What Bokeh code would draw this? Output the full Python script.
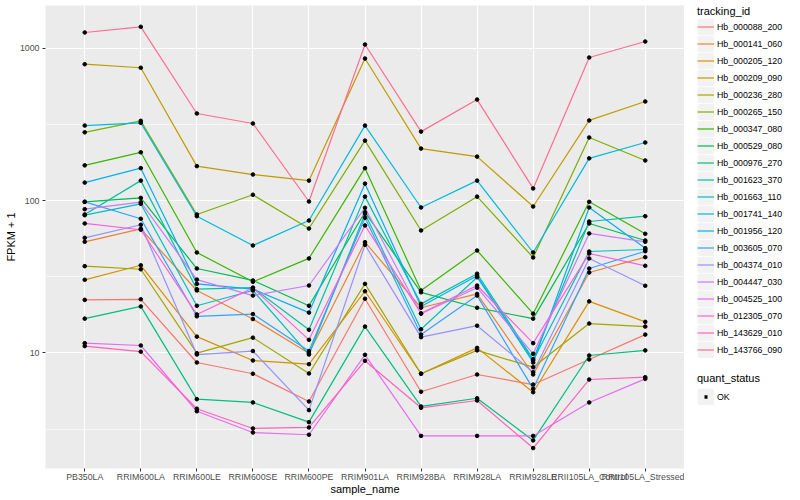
from bokeh.plotting import figure
from bokeh.layouts import row
from bokeh.models import FactorRange, Range1d, FixedTicker, Legend, LegendItem, PrintfTickFormatter
from bokeh.embed import file_html
from bokeh.resources import INLINE

samples = ["PB350LA", "RRIM600LA", "RRIM600LE", "RRIM600SE", "RRIM600PE", "RRIM901LA",
           "RRIM928BA", "RRIM928LA", "RRIM928LE", "RRII105LA_Control", "RRII105LA_Stressed"]

tracking_ids = ["Hb_000088_200", "Hb_000141_060", "Hb_000205_120", "Hb_000209_090", "Hb_000236_280",
                "Hb_000265_150", "Hb_000347_080", "Hb_000529_080", "Hb_000976_270", "Hb_001623_370",
                "Hb_001663_110", "Hb_001741_140", "Hb_001956_120", "Hb_003605_070", "Hb_004374_010",
                "Hb_004447_030", "Hb_004525_100", "Hb_012305_070", "Hb_143629_010", "Hb_143766_090"]

colors = ["#F8766D", "#EA8331", "#D89000", "#C09B00", "#A3A500", "#7CAE00", "#39B600", "#00BB4E",
          "#00BF7D", "#00C1A3", "#00BFC4", "#00BAE0", "#00B0F6", "#35A2FF", "#9590FF", "#C77CFF",
          "#E76BF3", "#FA62DB", "#FF62BC", "#FF6C91"]

quant_status = ["OK"]

# FPKM + 1 per sample (order of `samples`)
Hb_000088_200 = [22.3, 22.5, 8.66, 7.31, 4.81, 22.7, 5.57, 7.23, 6.21, 9.07, 13.2]
Hb_000141_060 = [53.6, 65.2, 25.7, 16.7, 9.97, 53.3, 19.8, 24.4, 7.23, 33.7, 42.5]
Hb_000205_120 = [30.2, 37.6, 12.8, 8.93, 8.45, 25.4, 7.31, 10.8, 5.53, 21.8, 16.0]
Hb_000209_090 = [783, 742, 168, 148, 135, 853, 219, 194, 91.3, 335, 446]
Hb_000236_280 = [37.1, 35.4, 9.97, 12.6, 7.34, 28.4, 7.31, 10.4, 8.07, 15.6, 14.9]
Hb_000265_150 = [280, 333, 81.0, 109, 65.5, 247, 63.6, 106, 42.3, 259, 183]
Hb_000347_080 = [170, 207, 45.6, 29.3, 41.7, 163, 25.7, 47.0, 18.1, 98.0, 60.5]
Hb_000529_080 = [98.0, 104, 35.8, 29.9, 20.4, 83.8, 25.0, 19.8, 16.8, 70.7, 54.7]
Hb_000976_270 = [16.8, 20.2, 4.98, 4.74, 3.52, 14.9, 4.46, 5.05, 2.67, 9.63, 10.4]
Hb_001623_370 = [81.0, 135, 26.2, 26.8, 14.2, 106, 21.0, 33.1, 9.11, 72.8, 78.9]
Hb_001663_110 = [80.1, 95.1, 20.4, 25.7, 9.77, 81.8, 14.3, 31.4, 8.93, 46.3, 47.7]
Hb_001741_140 = [310, 323, 78.9, 50.7, 73.9, 310, 90.0, 135, 45.6, 189, 240]
Hb_001956_120 = [131, 163, 28.4, 26.2, 18.4, 129, 20.2, 32.1, 8.66, 90.0, 48.7]
Hb_003605_070 = [98.0, 75.9, 17.4, 18.0, 10.3, 77.0, 13.2, 23.8, 5.82, 35.8, 46.5]
Hb_004374_010 = [56.9, 69.3, 9.77, 10.3, 4.22, 51.2, 12.7, 15.1, 7.48, 41.7, 27.6]
Hb_004447_030 = [87.7, 97.5, 30.3, 23.8, 27.7, 89.6, 18.1, 26.8, 9.88, 60.8, 53.6]
Hb_004525_100 = [11.6, 11.2, 4.15, 3.01, 2.91, 9.73, 2.86, 2.86, 2.86, 4.74, 6.77]
Hb_012305_070 = [70.7, 64.3, 17.9, 26.7, 12.2, 68.6, 18.2, 27.7, 11.6, 44.9, 37.3]
Hb_143629_010 = [11.1, 10.2, 4.31, 3.20, 3.25, 8.89, 4.37, 4.88, 2.38, 6.70, 6.94]
Hb_143766_090 = [1264, 1377, 372, 320, 98.5, 1054, 283, 459, 120, 866, 1103]

series = [Hb_000088_200, Hb_000141_060, Hb_000205_120, Hb_000209_090, Hb_000236_280,
          Hb_000265_150, Hb_000347_080, Hb_000529_080, Hb_000976_270, Hb_001623_370,
          Hb_001663_110, Hb_001741_140, Hb_001956_120, Hb_003605_070, Hb_004374_010,
          Hb_004447_030, Hb_004525_100, Hb_012305_070, Hb_143629_010, Hb_143766_090]

y_major = [10, 100, 1000]
y_minor = [10 ** 0.5, 10 ** 1.5, 10 ** 2.5]

FONT = "Liberation Sans"
H = 499

p = figure(x_range=FactorRange(factors=samples, range_padding=0.2, range_padding_units="absolute"),
           y_range=Range1d(1.748, 1900), y_axis_type="log",
           frame_width=639, frame_height=463, output_backend="svg", toolbar_location=None,
           min_border_left=45, min_border_top=5, min_border_bottom=31, min_border_right=0)

p.background_fill_color = "#EBEBEB"
p.border_fill_color = "white"
p.outline_line_color = None

ticker = FixedTicker(ticks=y_major, minor_ticks=y_minor)
p.yaxis.ticker = ticker
p.ygrid.ticker = ticker
p.yaxis.formatter = PrintfTickFormatter(format="%d")
p.ygrid.grid_line_color = "white"
p.ygrid.grid_line_width = 1.1
p.ygrid.minor_grid_line_color = "white"
p.ygrid.minor_grid_line_width = 0.6
p.xgrid.grid_line_color = "white"
p.xgrid.grid_line_width = 1.1

for ax in (p.xaxis, p.yaxis):
    ax.axis_line_color = None
    ax.major_tick_in = 0
    ax.major_tick_out = 3
    ax.major_tick_line_color = "#333333"
    ax.minor_tick_line_color = None
    ax.major_label_text_font = FONT
    ax.major_label_text_font_size = "8.8px"
    ax.major_label_text_color = "#4D4D4D"
    ax.axis_label_text_font = FONT
    ax.axis_label_text_font_size = "11px"
    ax.axis_label_text_font_style = "normal"
    ax.axis_label_text_color = "black"

p.xaxis.major_label_standoff = 0
p.xaxis.axis_label_standoff = -2
p.yaxis.major_label_standoff = 2
p.yaxis.axis_label_standoff = 0

p.xaxis.axis_label = "sample_name"
p.yaxis.axis_label = "FPKM + 1"

for vals, c in zip(series, colors):
    p.line(x=samples, y=vals, line_color=c, line_width=1.2)

for vals in series:
    p.scatter(x=samples, y=vals, size=3.6, fill_color="black", line_color="black", marker="circle")

# ---- legend panel (separate figure to the right) ----
lg = figure(width=114, height=H, x_range=Range1d(0, 1), y_range=Range1d(0, 1),
            output_backend="svg", toolbar_location=None, min_border=0,
            x_axis_location=None, y_axis_location=None)
lg.grid.visible = False
lg.outline_line_color = None
lg.background_fill_color = "white"
lg.border_fill_color = "white"

# key renderers sit outside the visible range of the legend panel; only their legend glyphs show
off = [5.0, 6.0]
key_bg = lg.rect(x=[5.0], y=[5.0], width=1, height=1, fill_color="#F2F2F2", line_color="#F2F2F2", line_width=3)
key_lines = [lg.line(x=off, y=off, line_color=c, line_width=1.2) for c in colors]
ok_key = lg.line(x=off, y=off, line_color="black", line_width=3.5, line_dash="3 20", line_dash_offset=-7)

common = dict(orientation="vertical", glyph_width=17, glyph_height=17, label_height=17,
              spacing=0, padding=0, margin=0, label_standoff=3,
              label_text_font=FONT, label_text_font_size="8.8px", label_text_color="black",
              title_text_font=FONT, title_text_font_size="11px", title_text_font_style="normal",
              title_text_color="black",
              border_line_color=None, background_fill_alpha=0)

items = [LegendItem(label=name, renderers=[key_bg, r]) for name, r in zip(tracking_ids, key_lines)]
leg1 = Legend(items=items, title="tracking_id", location=(13, 110), title_standoff=1, **common)
leg2 = Legend(items=[LegendItem(label=quant_status[0], renderers=[key_bg, ok_key])], title="quant_status",
              location=(13, 63), title_standoff=4, **common)
lg.add_layout(leg1)
lg.add_layout(leg2)

layout = row(p, lg)

open("out.html", "w").write(file_html(layout, INLINE))
